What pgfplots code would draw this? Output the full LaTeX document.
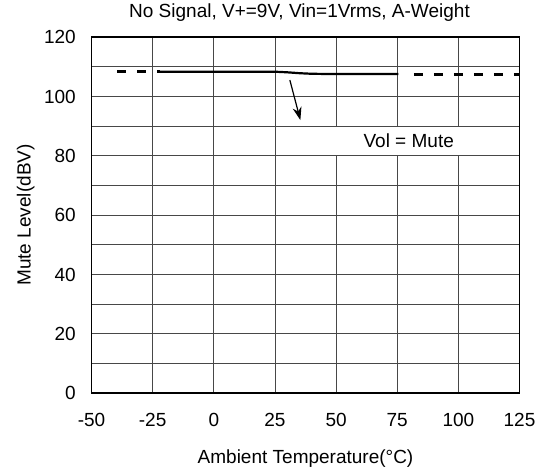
\documentclass[border=0pt]{standalone}
\usepackage{fontspec}
\setmainfont{Liberation Sans}
\usepackage{pgfplots}
\pgfplotsset{compat=1.18}
\usetikzlibrary{arrows.meta}
\begin{document}
\begin{tikzpicture}
\useasboundingbox (-91.5bp,-75bp) rectangle (448.5bp,393bp);
\begin{axis}[
  at={(0,0)}, anchor=south west,
  width=428bp, height=356bp, scale only axis,
  xmin=-50, xmax=125, ymin=0, ymax=120,
  xtick={-50,-25,...,125}, ytick={0,20,...,120},
  minor ytick={10,30,...,110},
  grid=both,
  major grid style={black!72, line width=0.8bp},
  minor grid style={black!72, line width=0.8bp},
  tick style={draw=none},
  axis line style={black, line width=1.5bp},
  /pgf/number format/assume math mode=true,
  ticklabel style={font=\fontsize{19bp}{21bp}\selectfont, inner sep=0pt, text height=13.6bp, text depth=0pt},
  xticklabel style={anchor=center, yshift=-27bp},
  yticklabel style={anchor=east, xshift=-15.5bp},
  title={No Signal, V+=9V, Vin=1Vrms, A-Weight},
  title style={font=\fontsize{19bp}{21bp}\selectfont, text height=13.6bp, text depth=0pt, at={(axis description cs:0.486,1)}, anchor=center, yshift=20bp},
  xlabel={Ambient Temperature(°C)},
  xlabel style={font=\fontsize{19bp}{21bp}\selectfont, text height=13.6bp, text depth=0pt, at={(axis description cs:0.5,0)}, anchor=center, yshift=-63.7bp},
  ylabel={Mute Level(dBV)},
  ylabel style={font=\fontsize{19bp}{21bp}\selectfont, text height=13.6bp, text depth=0pt, at={(axis description cs:-0.158,0.5)}, anchor=center},
]
\addplot[black, line width=2.6bp, dash pattern=on 9.3bp off 10.7bp] coordinates {(-39.5,108.3) (-22,108.3)};
\addplot[black, line width=2.2bp] coordinates {(-22,108.3) (25,108.3) (30,108.1) (35,107.8) (40,107.6) (50,107.5) (75.5,107.5)};
\addplot[black, line width=2.6bp, dash pattern=on 9.3bp off 10.7bp] coordinates {(81.8,107.4) (125,107.4)};
\fill[white] (axis cs:34.75,80.35) rectangle (axis cs:124.4,89.6);
\node[font=\fontsize{19bp}{21bp}\selectfont] at (axis cs:79.7,85) {Vol = Mute};
\draw[-{Stealth[length=13bp,width=9bp]}, line width=1.2bp] (axis cs:31.1,105.5) -- (axis cs:35.4,92);
\end{axis}
\end{tikzpicture}
\end{document}
